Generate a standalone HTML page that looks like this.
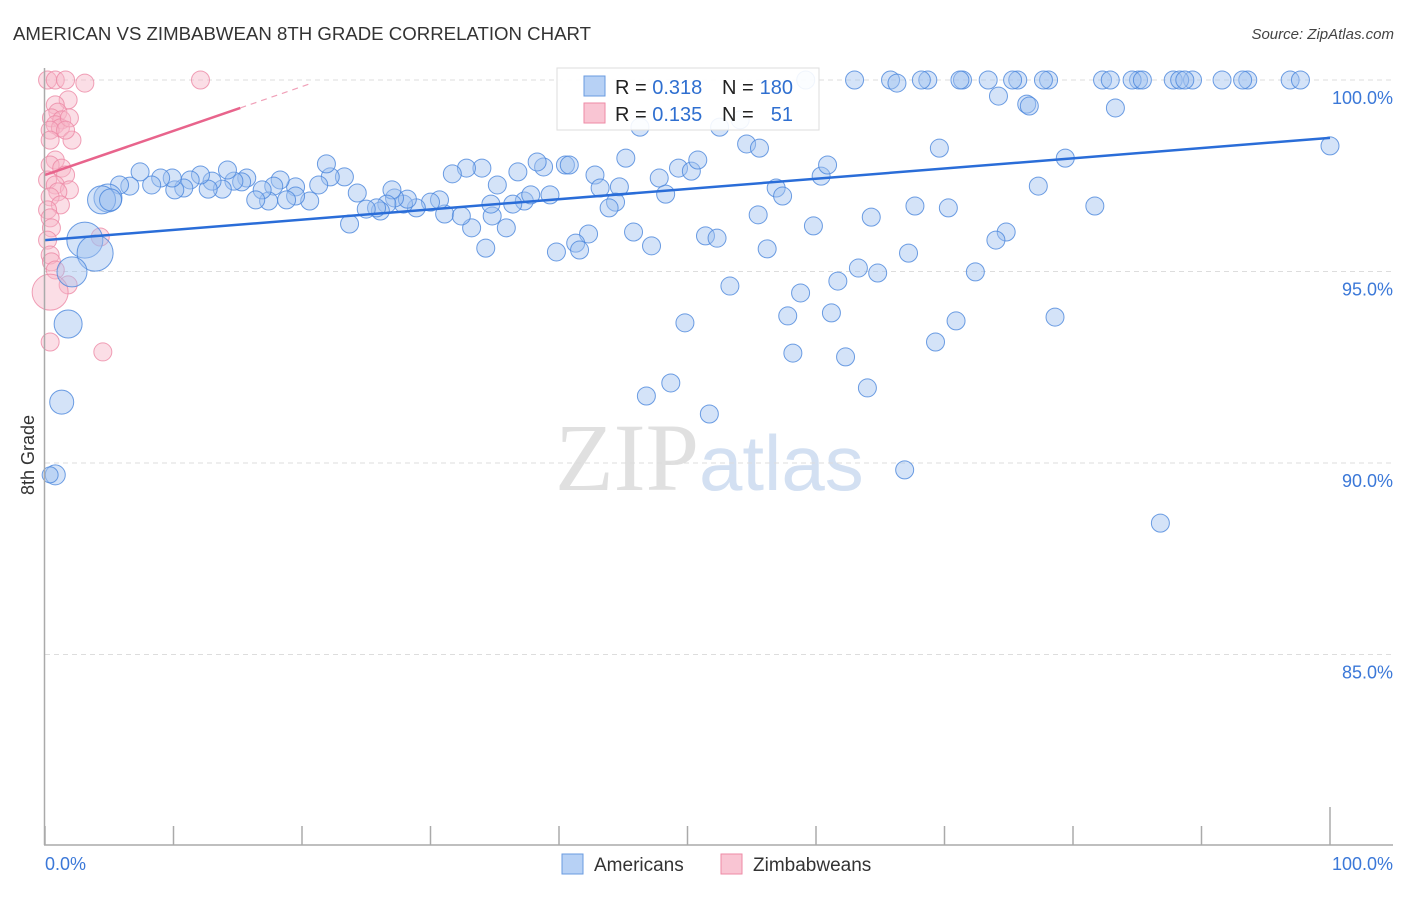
<!DOCTYPE html>
<html><head><meta charset="utf-8"><style>
body{margin:0;background:#fff;font-family:"Liberation Sans",sans-serif;}
</style></head><body>
<svg id="c" width="1406" height="892" xmlns="http://www.w3.org/2000/svg" font-family="Liberation Sans, sans-serif">
<text x="13" y="40" font-size="18" fill="#333" textLength="578" lengthAdjust="spacingAndGlyphs">AMERICAN VS ZIMBABWEAN 8TH GRADE CORRELATION CHART</text>
<text x="1394" y="39" font-size="15" fill="#444" text-anchor="end" font-style="italic">Source: ZipAtlas.com</text>
<text x="555" y="490" font-size="96" font-family="Liberation Serif, serif"><tspan fill="#e0e0e0">ZIP</tspan><tspan fill="#d3e0f2" font-family="Liberation Sans, sans-serif" font-size="78">atlas</tspan></text>
<text transform="translate(34,455) rotate(-90)" font-size="18" fill="#333" text-anchor="middle">8th Grade</text>
<g id="grid"></g><g id="pts"></g><g id="lines"></g><g id="axes"></g>
<g>
<rect x="557" y="68" width="262" height="62" fill="#fff" fill-opacity="0.9" stroke="#ddd"/>
<rect x="584" y="76" width="21" height="20" fill="#b7d1f5" stroke="#6a9be0"/>
<rect x="584" y="103" width="21" height="20" fill="#f9c5d3" stroke="#ee8aa6"/>
<text x="615" y="94" font-size="20" fill="#222">R = <tspan fill="#2f6fd0">0.318</tspan></text>
<text x="722" y="94" font-size="20" fill="#222">N =</text>
<text x="793" y="94" font-size="20" fill="#2f6fd0" text-anchor="end">180</text>
<text x="615" y="121" font-size="20" fill="#222">R = <tspan fill="#2f6fd0">0.135</tspan></text>
<text x="722" y="121" font-size="20" fill="#222">N =</text>
<text x="793" y="121" font-size="20" fill="#2f6fd0" text-anchor="end">51</text>
</g>
<g>
<rect x="562" y="854" width="21" height="20" fill="#b7d1f5" stroke="#6a9be0"/>
<text x="594" y="871" font-size="19" fill="#333">Americans</text>
<rect x="721" y="854" width="21" height="20" fill="#f9c5d3" stroke="#ee8aa6"/>
<text x="753" y="871" font-size="19" fill="#333">Zimbabweans</text>
</g>
</svg>
<script>
const yTicks=[100,95,90,85];
const yTickLabels=["100.0%","95.0%","90.0%","85.0%"];
const xTicks=[0,10,20,30,40,50,60,70,80,90,100];
const blueX=[63.0,65.8,68.7,71.4,73.4,75.7,78.1,82.3,85.1,87.8,89.3,91.6,93.6,96.9,97.7,59.2,66.3,68.2,71.2,75.3,77.7,82.9,84.6,85.4,88.3,93.2,88.7,
74.2,76.4,76.6,83.3,46.3,52.5,54.1,54.6,55.6,69.6,79.4,100,77.3,81.7,67.7,70.3,74.8,74.0,67.2,72.4,64.8,63.3,61.7,53.3,58.8,57.8,61.2,49.8,70.9,78.6,69.3,58.2,62.3,48.7,46.8,64.0,51.7,66.9,86.8,
55.5,59.8,64.3,56.2,51.4,52.3,47.2,45.8,42.3,41.3,41.6,39.8,34.3,33.2,31.1,32.4,34.8,35.9,34.7,37.3,39.3,37.8,36.4,35.2,36.8,38.8,38.3,40.5,40.8,42.8,43.2,44.7,44.4,43.9,45.2,47.8,48.3,49.3,50.3,50.8,56.9,57.4,60.4,60.9,
34.0,32.8,31.7,30.7,30.0,28.9,27.9,28.2,27.2,27.0,26.6,26.1,25.8,25.0,24.3,23.7,23.3,22.2,21.9,21.3,20.6,19.5,19.5,18.8,18.3,17.8,17.4,16.9,16.4,15.7,15.3,14.7,14.2,13.8,13.0,12.7,12.1,11.3,10.8,10.1,9.9,9.0,8.3,7.4,6.6,5.8,
4.9,4.4,5.1,3.1,3.9,2.1,1.8,1.3,0.8,0.4];
const blueY=[100,100,100,100,100,100,100,100,100,100,100,100,100,100,100,100,99.92,100,100,100,100,100,100,100,100,100,100,
99.58,99.37,99.32,99.27,98.77,98.77,98.96,98.33,98.22,98.22,97.96,98.28,97.23,96.71,96.71,96.66,96.03,95.82,95.48,94.99,94.96,95.09,94.75,94.62,94.44,93.84,93.92,93.66,93.71,93.81,93.16,92.87,92.77,92.09,91.75,91.96,91.28,89.82,88.43,
96.48,96.19,96.42,95.59,95.93,95.87,95.67,96.03,95.98,95.74,95.56,95.51,95.61,96.14,96.50,96.45,96.45,96.14,96.76,96.84,97.00,97.00,96.76,97.26,97.60,97.73,97.86,97.78,97.78,97.52,97.18,97.21,96.81,96.66,97.96,97.44,97.02,97.70,97.62,97.91,97.18,96.97,97.49,97.78,
97.70,97.70,97.55,96.87,96.81,96.66,96.76,96.89,96.92,97.13,96.76,96.58,96.66,96.63,97.05,96.24,97.47,97.47,97.81,97.26,96.84,97.21,96.97,96.87,97.39,97.23,96.84,97.13,96.87,97.44,97.34,97.36,97.65,97.15,97.36,97.15,97.52,97.39,97.18,97.13,97.44,97.44,97.26,97.60,97.23,97.26,
96.92,96.87,96.87,95.82,95.48,94.99,93.63,91.59,89.69,89.69];
const blueBig=[[0,14],[1,14],[2,11],[3,18],[4,18],[5,15],[6,14],[7,12],[8,10],[9,8]];
const pinkX=[0.2,0.8,1.6,3.1,12.1,1.8,0.8,1.0,0.5,1.3,0.8,1.2,0.4,1.9,2.1,1.6,0.4,0.8,0.4,1.3,1.6,0.2,0.8,1.9,1.0,0.4,1.2,0.2,0.4,0.5,0.2,0.4,0.5,0.8,1.8,0.4,4.5,0.4,4.3];
const pinkY=[100,100,100,99.92,100,99.48,99.35,99.16,99.01,98.96,98.83,98.75,98.69,99.01,98.43,98.69,98.43,97.91,97.78,97.70,97.52,97.39,97.26,97.13,97.08,96.95,96.74,96.61,96.40,96.14,95.82,95.43,95.25,95.04,94.65,94.46,92.90,93.16,95.90];
const blueTrend=[[0,95.82],[100,98.49]];
const pinkTrend=[[0,97.52],[15.2,99.27]];
const pinkTrendDash=[[15.2,99.27],[20.6,99.9]];

const NS="http://www.w3.org/2000/svg";
const X=v=>45+v*12.85, Y=v=>80+(100-v)*38.3;
function mk(t,a,p){const e=document.createElementNS(NS,t);for(const k in a)e.setAttribute(k,a[k]);document.getElementById(p).appendChild(e);return e;}
yTicks.forEach((t,i)=>{
 const g=mk('line',{x1:45,x2:1393,y1:Y(t),y2:Y(t),stroke:'#ddd','stroke-dasharray':'5,4'},'grid');
 
 
 const l=mk('text',{x:1393,y:Y(t)+24,'font-size':18,fill:'#3b78d8','text-anchor':'end'},'axes');
 l.textContent=yTickLabels[i];
 
 
});
const ax=mk('line',{x1:44.5,x2:44.5,y1:68,y2:845,stroke:'#aaa','stroke-width':1.5},'axes');


const bx=mk('line',{x1:44,x2:1393,y1:845,y2:845,stroke:'#aaa','stroke-width':1.5},'axes');


xTicks.forEach(t=>{
 const tk=mk('line',{x1:X(t),x2:X(t),y1:t==100?807:826,y2:845,stroke:'#aaa','stroke-width':1.5},'axes');
 
 
});
const xl0=mk('text',{x:45,y:870,'font-size':18,fill:'#3b78d8'},'axes');xl0.textContent='0.0%';


const xl1=mk('text',{x:1393,y:870,'font-size':18,fill:'#3b78d8','text-anchor':'end'},'axes');xl1.textContent='100.0%';


const bigR={};blueBig.forEach(([o,r])=>bigR[blueX.length-10+o]=r);
pinkX.forEach((v,i)=>{
 const c=mk('circle',{cx:X(v),cy:Y(pinkY[i]),r:i==35?18:9,fill:'#f7b6c8','fill-opacity':0.45,stroke:'#ec88a5','stroke-opacity':0.8},'pts');
 
 
});
blueX.forEach((v,i)=>{
 const c=mk('circle',{cx:X(v),cy:Y(blueY[i]),r:bigR[i]||9,fill:'#9fc2f0','fill-opacity':0.45,stroke:'#4a86dc','stroke-opacity':0.8},'pts');
 
 
});
const bl=mk('line',{x1:X(blueTrend[0][0]),y1:Y(blueTrend[0][1]),x2:X(blueTrend[1][0]),y2:Y(blueTrend[1][1]),stroke:'#2a6dd8','stroke-width':2.5},'lines');


const pl=mk('line',{x1:X(pinkTrend[0][0]),y1:Y(pinkTrend[0][1]),x2:X(pinkTrend[1][0]),y2:Y(pinkTrend[1][1]),stroke:'#e8648c','stroke-width':2.5},'lines');


const pd=mk('line',{x1:X(pinkTrendDash[0][0]),y1:Y(pinkTrendDash[0][1]),x2:X(pinkTrendDash[1][0]),y2:Y(pinkTrendDash[1][1]),stroke:'#f0a0b8','stroke-width':1.2,'stroke-dasharray':'6,5'},'lines');


</script>
</body></html>
